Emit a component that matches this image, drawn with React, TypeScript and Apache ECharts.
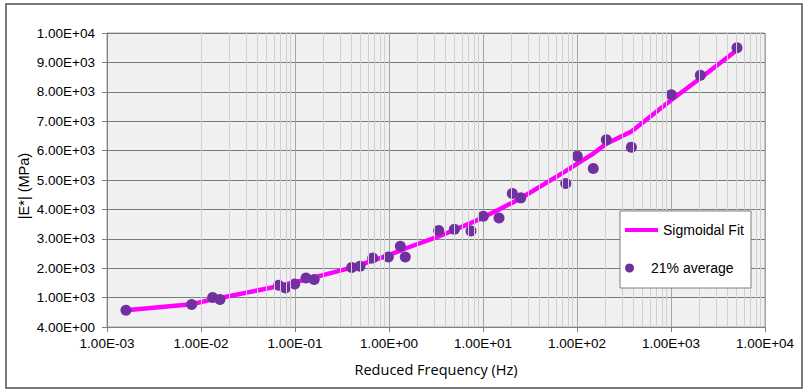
import React, { useEffect, useRef } from "react";
import * as echarts from "echarts";

const frequency = [0.00159, 0.00796, 0.0133, 0.0159, 0.0671, 0.0789, 0.0993, 0.131, 0.16, 0.401, 0.491, 0.671, 0.984, 1.32, 1.49, 3.38, 4.96, 7.45, 10.07, 14.8, 20.5, 25.2, 75.9, 100.7, 149, 205, 379, 1007, 2051, 5035];
const measured = [569, 763, 1001, 933, 1420, 1328, 1464, 1668, 1614, 2022, 2067, 2349, 2383, 2748, 2383, 3282, 3326, 3269, 3769, 3711, 4542, 4392, 4883, 5812, 5393, 6367, 6118, 7899, 8560, 9500];
const sigmoidalFit = [570, 775, 940, 985, 1390, 1450, 1520, 1610, 1690, 2020, 2110, 2260, 2440, 2600, 2670, 3080, 3300, 3540, 3730, 4000, 4230, 4380, 5300, 5560, 5900, 6230, 6650, 7720, 8460, 9420];

const xTickLabels = ["1.00E-03", "1.00E-02", "1.00E-01", "1.00E+00", "1.00E+01", "1.00E+02", "1.00E+03", "1.00E+04"];
const yTickLabels = ["4.00E+00", "1.00E+03", "2.00E+03", "3.00E+03", "4.00E+03", "5.00E+03", "6.00E+03", "7.00E+03", "8.00E+03", "9.00E+03", "1.00E+04"];

const seriesNames = ["Sigmoidal Fit", "21% average"];

export default function App() {
  const ref = useRef<HTMLDivElement>(null);
  useEffect(() => {
    if (!ref.current) return;
    const chart = echarts.init(ref.current, null, { renderer: "svg" });

    const minorLines: { xAxis: number }[] = [];
    for (let d = -3; d < 4; d++) {
      for (let k = 2; k <= 9; k++) minorLines.push({ xAxis: k * Math.pow(10, d) });
    }

    const arial = "Liberation Sans, Arial, sans-serif";

    chart.setOption({
      animation: false,
      backgroundColor: "#ffffff",
      grid: {
        left: 107,
        right: 39,
        top: 33,
        bottom: 63,
        show: true,
        backgroundColor: "#f0f0f0",
        borderColor: "#a0a0a0",
        borderWidth: 1,
      },
      graphic: [
        {
          type: "rect",
          shape: { x: 6, y: 4, width: 796, height: 384 },
          style: { fill: "none", stroke: "#505050", lineWidth: 1.5 },
          silent: true,
        },
        {
          type: "rect",
          z: 10,
          shape: { x: 620, y: 211, width: 131, height: 77 },
          style: { fill: "#ffffff", stroke: "#7f7f7f", lineWidth: 1 },
          silent: true,
        },
      ],
      legend: [
        {
          data: [{ name: seriesNames[0], icon: "rect" }],
          left: 625,
          top: 223,
          padding: 0,
          itemWidth: 33,
          itemHeight: 4,
          z: 20,
          textStyle: { fontFamily: arial, fontSize: 14, color: "#000" },
        },
        {
          data: [{ name: seriesNames[1], icon: "circle" }],
          left: 625,
          top: 261,
          padding: 0,
          itemWidth: 33,
          itemHeight: 9,
          z: 20,
          textStyle: { fontFamily: arial, fontSize: 14, color: "#000" },
        },
      ],
      xAxis: {
        type: "log",
        logBase: 10,
        min: 0.001,
        max: 10000,
        name: "Reduced Frequency (Hz)",
        nameLocation: "middle",
        nameGap: 35,
        nameTextStyle: { fontFamily: "Open Sans, sans-serif", fontSize: 14.5, color: "#000" },
        axisLine: { show: true, lineStyle: { color: "#808080", width: 1 } },
        axisTick: { show: true, length: 5, lineStyle: { color: "#808080" } },
        axisLabel: {
          margin: 9,
          fontFamily: arial,
          fontSize: 13.5,
          color: "#000",
          formatter: (v: number) => xTickLabels[Math.round(Math.log10(v)) + 3],
        },
        splitLine: { show: true, lineStyle: { color: "#a6a6a6", width: 1 } },
      },
      yAxis: {
        type: "value",
        min: 0,
        max: 10000,
        interval: 1000,
        name: "|E*| (MPa)",
        nameLocation: "middle",
        nameGap: 76,
        nameMoveOverlap: false,
        nameTextStyle: { fontFamily: arial, fontSize: 14.5, color: "#000", padding: [0, 12, 0, 0] },
        axisLine: { show: true, lineStyle: { color: "#808080", width: 1 } },
        axisTick: { show: true, length: 5, lineStyle: { color: "#808080" } },
        axisLabel: {
          margin: 12,
          fontFamily: arial,
          fontSize: 13.5,
          color: "#000",
          formatter: (v: number) => yTickLabels[Math.round(v / 1000)],
        },
        splitLine: { show: true, lineStyle: { color: "#7a7a7a", width: 1 } },
      },
      series: [
        {
          name: "minor-grid",
          type: "line",
          data: [],
          silent: true,
          z: 0,
          markLine: {
            silent: true,
            symbol: ["none", "none"],
            label: { show: false },
            lineStyle: { color: "#d0d0d0", width: 1, type: "solid" },
            data: minorLines,
          },
        },
        {
          name: seriesNames[0],
          type: "line",
          data: frequency.map((f, i) => [f, sigmoidalFit[i]]),
          showSymbol: false,
          symbol: "none",
          color: "#ff00ff",
          lineStyle: { color: "#ff00ff", width: 4.5 },
          z: 3,
        },
        {
          name: seriesNames[1],
          type: "scatter",
          data: frequency.map((f, i) => [f, measured[i]]),
          symbol: "circle",
          symbolSize: 11,
          itemStyle: { color: "#7030a0", opacity: 1 },
          z: 4,
        },
      ],
    });
    return () => chart.dispose();
  }, []);
  return (
    <div
      ref={ref}
      style={{ position: "fixed", left: 0, top: 0, width: 804, height: 390 }}
    />
  );
}
